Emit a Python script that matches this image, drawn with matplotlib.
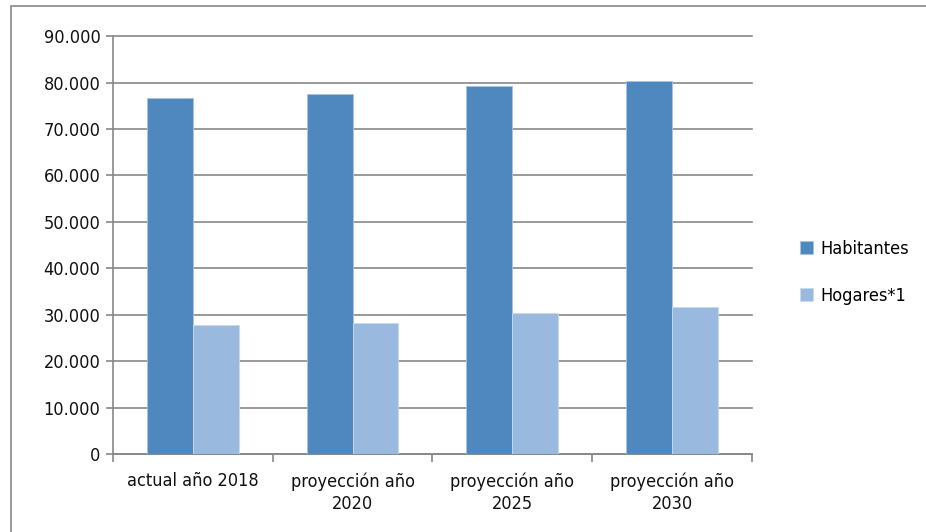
import matplotlib
matplotlib.use("Agg")
import matplotlib.pyplot as plt
from matplotlib.ticker import FuncFormatter, FixedLocator, MultipleLocator
from matplotlib.patches import Rectangle
import numpy as np

plt.rcParams['font.family'] = ['DejaVu Sans']
plt.rcParams['font.stretch'] = 'condensed'

# Chart data
categories = ["actual año 2018", "proyección año\n2020", "proyección año\n2025", "proyección año\n2030"]
habitantes = [76600, 77450, 79200, 80400]
hogares = [27700, 28300, 30400, 31600]
series_names = ["Habitantes", "Hogares*1"]
colors = ["#4F88BF", "#99B9DF"]

fig = plt.figure(figsize=(9.26, 5.32), dpi=100)
ax = fig.add_axes([0.122, 0.1466, 0.69, 0.7854])

# outer chart border
fig.patches.append(Rectangle((11 / 926, -0.01), 1.0, 1 - 6 / 532 + 0.01,
                             transform=fig.transFigure, fill=False,
                             edgecolor="#888888", linewidth=1.2))

x = np.arange(len(categories))
w = 0.2875
ax.bar(x - w / 2, habitantes, w, color=colors[0], edgecolor="#A9C4E3",
       linewidth=0.6, label=series_names[0], zorder=3)
ax.bar(x + w / 2, hogares, w, color=colors[1], edgecolor="#C9DAEE",
       linewidth=0.6, label=series_names[1], zorder=3)

ax.set_xlim(-0.5, len(categories) - 0.5)
ax.set_ylim(0, 90000)
ax.yaxis.set_major_locator(MultipleLocator(10000))
ax.yaxis.set_major_formatter(FuncFormatter(lambda v, p: f"{int(v):,}".replace(",", ".")))
ax.grid(axis="y", color="#888888", linewidth=1.2, zorder=0)
ax.set_axisbelow(True)
for gl in ax.get_ygridlines():
    gl.set_clip_on(False)

ax.set_xticks(x)
ax.set_xticklabels(categories, fontsize=13, color="#111111", linespacing=1.3)
ax.tick_params(axis="x", length=0, pad=13)
ax.xaxis.set_minor_locator(FixedLocator(np.arange(-0.5, len(categories), 1)))
ax.tick_params(axis="x", which="minor", length=6, color="#888888", width=1.2)
ax.tick_params(axis="y", length=5, color="#888888", width=1.2, labelsize=13,
               labelcolor="#111111", pad=4)

for s in ["top", "right"]:
    ax.spines[s].set_visible(False)
for s in ["left", "bottom"]:
    ax.spines[s].set_color("#888888")
    ax.spines[s].set_linewidth(1.2)

leg = ax.legend(loc="center left", bbox_to_anchor=(1.05, 0.435), frameon=False,
                fontsize=13, handlelength=0.7, handleheight=0.7,
                handletextpad=0.4, labelspacing=1.6)

fig.savefig("out.png", dpi=100)
